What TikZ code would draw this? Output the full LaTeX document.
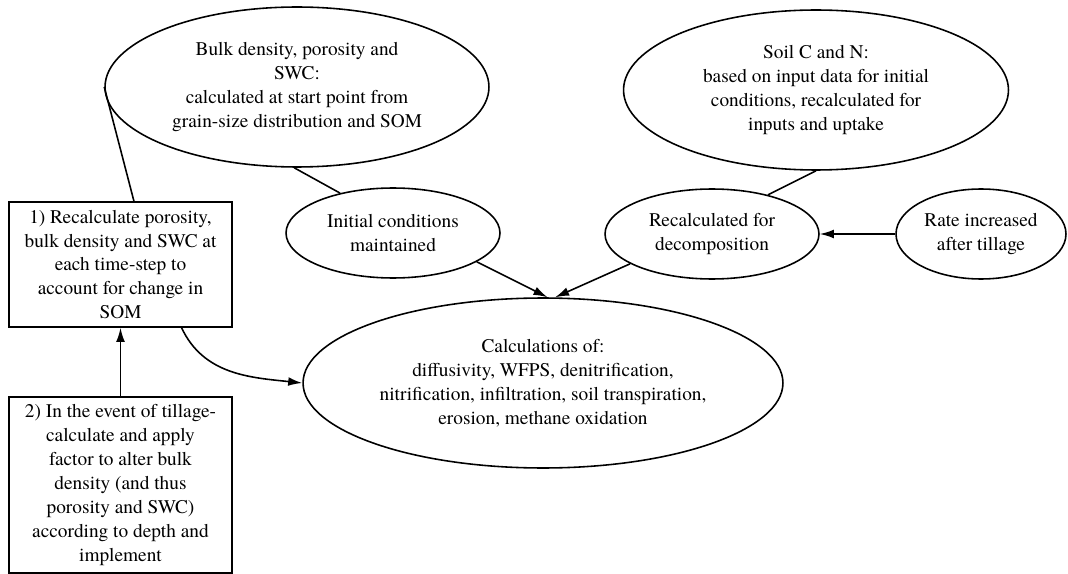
\documentclass[tikz,border=0pt]{standalone}
\usepackage{fontspec}
\setmainfont{TeX Gyre Termes}
\usetikzlibrary{shapes,arrows.meta,calc,positioning}

\begin{document}
\begin{tikzpicture}[x=0.02cm, y=-0.02cm,
      every node/.append style={align=center, inner sep=0pt, font=\rmfamily\fontsize{11pt}{13.6pt}\selectfont},
      bubble/.style={ellipse, draw, line width=0.9pt},
      stepbox/.style={rectangle, draw, line width=0.9pt, minimum width=4.46cm},
      link/.style={line width=0.9pt},
      flow/.style={line width=0.9pt, -{Latex[length=8pt, width=5pt]}}]
    \useasboundingbox (0,0) rectangle (1068,574);
    \node (bulk) [bubble, minimum width=7.68cm, minimum height=3.2cm] at (297,87)
      {Bulk density, porosity and\\ SWC:\\ calculated at start point from\\ grain-size distribution and SOM};
    \node (soilCN) [bubble, minimum width=7.7cm, minimum height=3.2cm] at (816,90)
      {Soil C and N:\\ based on input data for initial\\ conditions, recalculated for\\ inputs and uptake};
    \node (initial) [bubble, minimum width=4.28cm, minimum height=1.8cm] at (393,233)
      {Initial conditions\\ maintained};
    \node (decomp) [bubble, minimum width=4.28cm, minimum height=1.8cm] at (712,234)
      {Recalculated for\\ decomposition};
    \node (rate) [bubble, minimum width=3.4cm, minimum height=1.8cm] at (981,234)
      {Rate increased\\ after tillage};
    \node (calcs) [bubble, minimum width=9.6cm, minimum height=3.4cm] at (543,383)
      {Calculations of:\\ diffusivity, WFPS, denitrification,\\ nitrification, infiltration, soil transpiration,\\ erosion, methane oxidation};
    \node (recalc) [stepbox, minimum height=2.5cm] at (120.5,264.5)
      {1) Recalculate porosity,\\ bulk density and SWC at\\ each time-step to\\ account for change in\\ SOM};
    \node (tillage) [stepbox, minimum height=3.52cm] at (120.5,485)
      {2) In the event of tillage-\\ calculate and apply\\ factor to alter bulk\\ density (and thus\\ porosity and SWC)\\ according to depth and\\ implement};
    \draw[link] (bulk.west) -- (recalc.78);
    \draw[link] (bulk.268) -- (initial.143);
    \draw[link] (soilCN.south) -- (decomp.35);
    \draw[flow] (initial.-19) -- (calcs.87);
    \draw[flow] (decomp.200) -- (calcs.82);
    \draw[flow] (rate.west) -- (decomp.east);
    \draw[flow] (tillage.north) -- (recalc.south);
    \draw[flow] (recalc.-46) to[out=-65, in=174] (calcs.west);
  \end{tikzpicture}
\end{document}
